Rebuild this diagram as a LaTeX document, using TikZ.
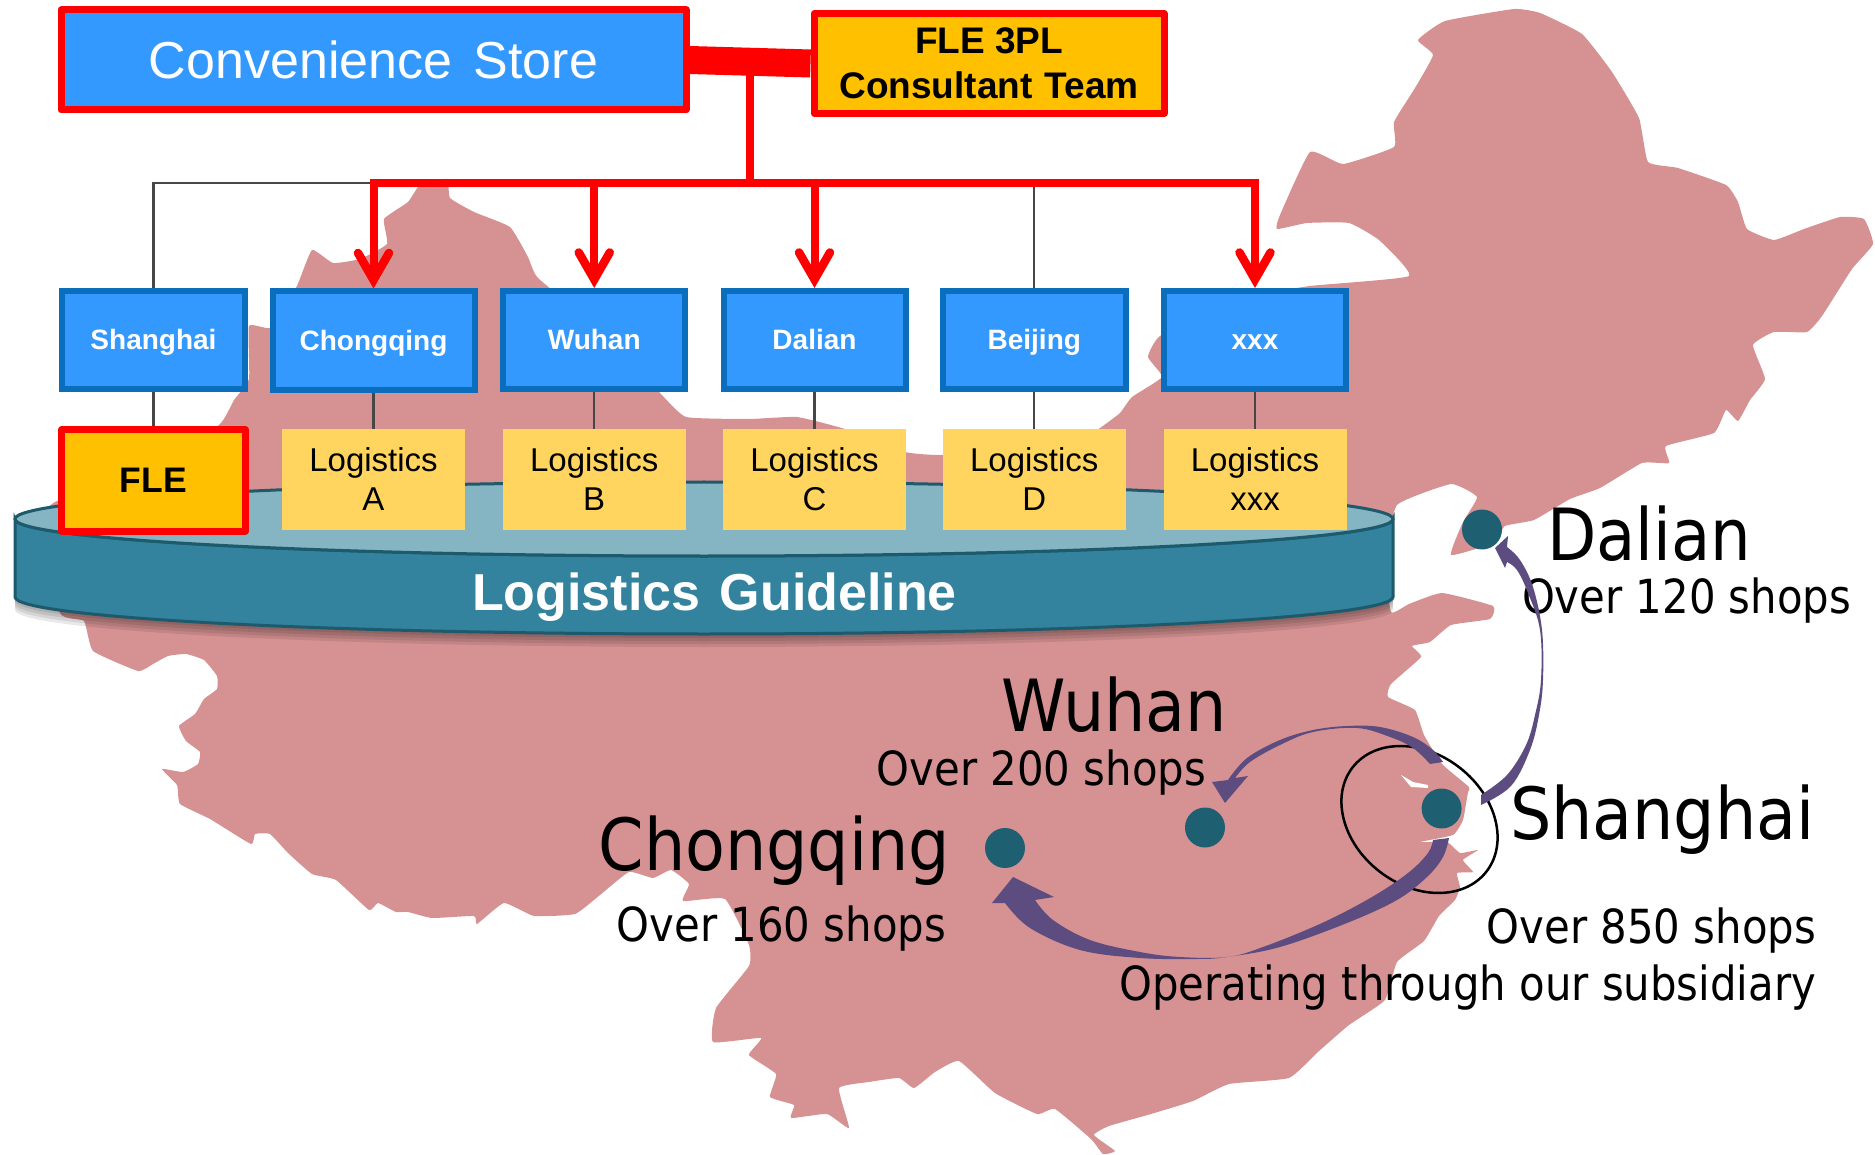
\documentclass[tikz,border=0pt]{standalone}
\usepackage{fontspec}
\setmainfont{Liberation Sans}
\newfontfamily\cityfont[FakeStretch=0.905]{DejaVu Sans}
\newfontfamily\cityfontnarrow[FakeStretch=0.89]{DejaVu Sans}
\usetikzlibrary{arrows.meta}
\definecolor{mappink}{HTML}{D69292}
\definecolor{boxblue}{HTML}{3399FF}
\definecolor{boxedge}{HTML}{0A6EBD}
\definecolor{logyellow}{HTML}{FFD55F}
\definecolor{fleorange}{HTML}{FFC000}
\definecolor{disktop}{HTML}{85B4C2}
\definecolor{diskside}{HTML}{33829E}
\definecolor{diskedge}{HTML}{1C5A6C}
\definecolor{dotteal}{HTML}{1F5F72}
\definecolor{arcpurple}{HTML}{5D4C80}
\tikzset{
  x=1pt,y=-1pt,
  every node/.style={inner sep=0pt,outer sep=0pt,align=center},
  redbox/.style={draw=red,line width=7pt,line join=round,outer sep=3.5pt},
  citybox/.style={draw=boxedge,fill=boxblue,line width=6pt,text=white,font=\fontsize{28}{32}\selectfont\bfseries,outer sep=3pt,minimum height=98,text height=20pt,text depth=0pt},
  logbox/.style={fill=logyellow,minimum width=183pt,minimum height=100pt,font=\fontsize{33}{39}\selectfont},
  thinline/.style={draw=black!72,line width=2.2pt},
  redline/.style={draw=red,line width=8pt,line join=miter},
  redarrow/.style={redline,-{Straight Barb[length=27pt,width=31pt,line width=8.5pt,line cap=round]}},
  cityname/.style={font=\cityfont\fontsize{72}{72}\selectfont,text=black},
  citynote/.style={font=\cityfont\fontsize{47}{47}\selectfont,text=black},
  citydot/.style={circle,fill=dotteal,minimum size=40pt},
  arc/.style={fill=arcpurple},
}
\begin{document}
\begin{tikzpicture}
\useasboundingbox (0,0) rectangle (1875,1155);
% map of China
\fill[mappink] plot[smooth cycle,tension=0.25] coordinates {
(420,185)(447,179)(450,198)(474,212)(510,227)(528,257)(538,278)(600,330)(660,393)(686,417)(749,419)(797,417)(845,429)(905,452)(940,455)
(1000,450)(1094,430)(1100,428)(1120,413)(1132,397)(1162,377)(1148,357)(1160,336)(1230,300)(1310,286)(1409,276)(1379,240)(1349,223)(1307,223)(1277,229)(1280,215)(1310,152)(1343,164)(1394,147)(1394,122)(1415,88)(1433,55)(1418,40)(1445,21)(1514,9)(1540,13)(1582,34)(1612,72)(1639,118)(1648,162)(1678,168)(1726,185)(1738,202)(1747,229)(1774,240)(1804,229)(1840,217)(1864,219)(1873,244)(1852,269)(1822,316)(1807,332)(1774,332)(1753,345)(1765,379)(1750,400)(1738,421)(1726,410)(1714,433)(1666,446)(1669,463)(1642,463)(1600,488)(1570,499)(1534,520)(1505,526)(1493,543)(1451,555)(1463,522)(1477,497)(1451,484)(1397,505)(1385,560)(1391,612)(1409,604)(1442,593)(1493,606)(1490,619)(1451,625)(1430,642)(1412,646)(1421,657)(1391,684)(1388,697)(1415,710)(1424,735)(1442,764)(1469,787)(1468,792)(1463,820)(1453,835)(1420,842)(1447,842)(1460,853)(1478,850)(1463,860)(1473,872)(1457,873)(1460,887)(1455,900)(1439,916)(1424,941)(1397,962)(1385,1000)(1349,1025)(1319,1051)(1289,1078)(1229,1084)(1193,1101)(1151,1114)(1109,1126)(1094,1135)(1115,1151)(1103,1154)(1091,1139)(1055,1109)(1037,1114)(995,1093)(959,1061)(935,1072)(914,1088)(899,1078)(869,1082)(839,1088)(849,1128)(827,1114)(791,1118)(794,1105)(770,1097)(776,1074)(749,1055)(761,1038)(713,1042)(716,1008)(749,966)(749,945)(725,899)(683,901)(689,884)(671,870)(653,878)(629,872)(600,895)(575,914)(534,916)(504,903)(477,924)(474,916)(432,918)(408,912)(396,912)(378,903)(369,910)(336,880)(312,874)(288,853)(270,834)(255,834)(251,844)(210,819)(180,804)(177,785)(162,769)(183,772)(198,764)(200,752)(186,741)(179,726)(195,714)(204,699)(217,689)(217,676)(204,660)(186,654)(168,656)(153,664)(138,671)(93,651)(84,621)(60,613)(42,520)(57,501)(150,470)(219,425)(234,400)(249,379)(249,326)(270,328)(285,300)(297,286)(312,250)(333,263)(360,259)(387,244)(384,219)(408,202)};
\fill[white] (1401,775) -- (1413,782) -- (1428,785) -- (1428,788) -- (1411,787) -- cycle;
% disk
\foreach \s in {12,9,6,3}
  \fill[black,opacity=0.09] (15,{522+\s}) -- (15,{598+\s}) arc[start angle=180,end angle=360,x radius=689pt,y radius=37pt] -- (1393,{522+\s}) -- cycle;
\draw[draw=diskedge,fill=diskside,line width=3pt] (15,519) -- (15,597) arc[start angle=180,end angle=360,x radius=689pt,y radius=37pt] -- (1393,519) arc[start angle=0,end angle=-180,x radius=689pt,y radius=37pt] -- cycle;
\draw[draw=diskedge,fill=disktop,line width=3pt] (704,519) ellipse[x radius=689pt,y radius=37pt];
\node[text=white,font=\fontsize{52}{52}\selectfont\bfseries] (guide) at (714.5,597) {Logistics\hspace{5pt} Guideline};
% top boxes
\node[redbox,fill=boxblue,minimum width=625pt,minimum height=100pt,text=white,font=\fontsize{52}{52}\selectfont] (cs) at (373.5,60) {Convenience\hspace{7pt} Store};
\node[redbox,fill=fleorange,minimum width=350pt,minimum height=100pt,font=\fontsize{37}{45}\selectfont\bfseries] (team) at (989,63.5) {FLE 3PL\\Consultant\hspace{2pt} Team};
% row of city boxes
\node[citybox,minimum width=183pt] (bsh) at (153.5,340) {Shanghai};
\node[citybox,minimum width=202pt,minimum height=99] (bch) at (373.5,341) {Chongqing};
\node[citybox,minimum width=182pt] (bwu) at (594.25,340) {Wuhan};
\node[citybox,minimum width=182pt] (bda) at (814.5,340) {Dalian};
\node[citybox,minimum width=183pt] (bbe) at (1034.3,340) {Beijing};
\node[citybox,minimum width=182pt] (bxx) at (1255,340) {xxx};
% lower row
\node[redbox,fill=fleorange,minimum width=184pt,minimum height=101pt,font=\fontsize{35.5}{36}\selectfont\bfseries] (fle) at (153.5,480.5) {FLE};
\node[logbox] (la) at (373.5,479.5) {Logistics\\A};
\node[logbox] (lb) at (594.25,479.5) {Logistics\\B};
\node[logbox] (lc) at (814.5,479.5) {Logistics\\C};
\node[logbox] (ld) at (1034.3,479.5) {Logistics\\D};
\node[logbox] (lx) at (1255,479.5) {Logistics\\xxx};
% connectors
\coordinate (hub) at (750,182.7);
\coordinate (trunk) at (750,70);
\draw[thinline] (hub) -| (bsh.north);
\draw[thinline] (hub) -| (bbe.north);
\draw[thinline] (bsh.south) -- (fle.north);
\draw[thinline] (bch.south) -- (la.north);
\draw[thinline] (bwu.south) -- (lb.north);
\draw[thinline] (bda.south) -- (lc.north);
\draw[thinline] (bbe.south) -- (ld.north);
\draw[thinline] (bxx.south) -- (lx.north);
\draw[draw=red,line width=28pt] (cs.east) -- (team.west);
\draw[redline] (trunk) -- (hub);
\draw[redarrow] (hub) -| (bch.north);
\draw[redarrow] (hub) -| (bwu.north);
\draw[redarrow] (hub) -| (bda.north);
\draw[redarrow] (hub) -| (bxx.north);
% city labels
\node[cityname,anchor=base west] (tda) at (1547,560) {\cityfontnarrow Dalian};
\node[citynote,anchor=base west] (nda) at (1522,613) {\cityfontnarrow Over 120 shops};
\node[cityname,anchor=base west] (twu) at (1001,731) {Wuhan};
\node[citynote,anchor=base east] (nwu) at (1206,785) {\cityfontnarrow Over 200 shops};
\node[cityname,anchor=base east] (tch) at (950,870) {Chongqing};
\node[citynote,anchor=base east] (nch) at (946,941) {\cityfontnarrow Over 160 shops};
\node[cityname,anchor=base west] (tsh) at (1510,839) {Shanghai};
\node[citynote,anchor=base east] (nsh) at (1816,943) {\cityfontnarrow Over 850 shops};
\node[citynote,anchor=base east] (nop) at (1816,1000) {\cityfontnarrow Operating through our subsidiary};
% ellipse round Shanghai
\draw[black,line width=2.5pt,rotate around={-38:(1419.5,819.5)}] (1419.5,819.5) ellipse[x radius=84.8pt,y radius=65.6pt];
% dots
\node[citydot] (dda) at (1482,529.5) {};
\node[citydot] (dsh) at (1441.6,808.5) {};
\node[citydot] (dwu) at (1205,827.5) {};
\node[citydot] (dch) at (1005,848) {};
% curved arrows
\fill[arc] plot[smooth,tension=0.6] coordinates {(1481,805)(1511,786)(1530,750)(1539,715)(1543,680)(1542,630)(1533,587)(1520,560)(1507,547)} -- (1508,536) -- (1495,548) -- (1505,568) -- plot[smooth,tension=0.6] coordinates {(1507,562)(1517,570)(1528,593)(1540,630)(1541,680)(1535,715)(1526,745)(1507,775)(1481,795)} -- cycle;
\fill[arc] plot[smooth,tension=0.6] coordinates {(1443,762)(1433,750)(1413,737)(1380,727)(1347,726)(1313,730)(1280,740)(1247,758)(1228,780)} -- (1212,782) -- (1225,803) -- (1248,776) -- plot[smooth,tension=0.6] coordinates {(1235,778)(1250,762)(1280,745)(1313,732)(1357,728)(1390,737)(1413,748)(1430,764)} -- cycle;
\fill[arc] plot[smooth,tension=0.6] coordinates {(1449,838)(1443,857)(1427,877)(1397,900)(1347,923)(1280,947)(1227,957)(1197,959)(1140,958)(1080,950)(1030,928)(1005,903)} -- (992,903) -- (1013,877) -- (1054,897) -- plot[smooth,tension=0.6] coordinates {(1035,900)(1053,920)(1090,940)(1140,952)(1180,957)(1227,957)(1263,947)(1322,923)(1372,897)(1408,873)(1428,853)(1433,840)} -- cycle;
\end{tikzpicture}
\end{document}
